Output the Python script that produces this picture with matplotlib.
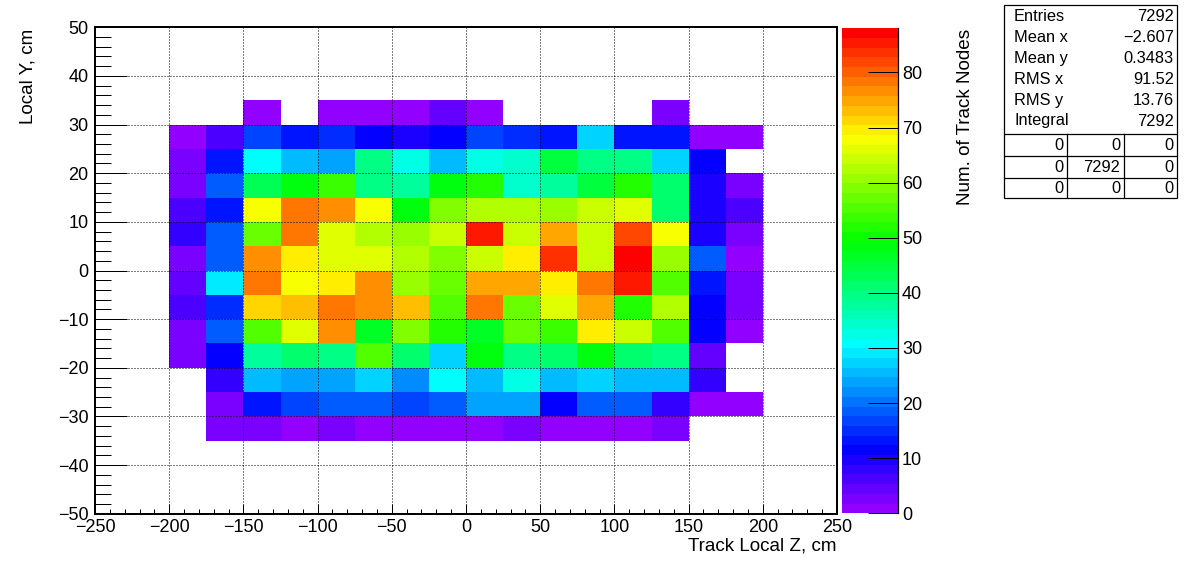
import numpy as np
import matplotlib
matplotlib.use('Agg')
import matplotlib.pyplot as plt
from matplotlib.colors import ListedColormap, BoundaryNorm
from matplotlib.patches import Rectangle
from matplotlib.lines import Line2D
import colorsys

plt.rcParams['font.family'] = ['Liberation Sans', 'DejaVu Sans']

# ---------------- data ----------------
x_edges = np.arange(-200, 201, 25)      # Track Local Z bins
y_edges = np.arange(-35, 36, 5)         # Local Y bins

# counts, rows listed from top (y 30..35) to bottom (y -35..-30)
row_30_35   = [0, 0, 1, 0, 1, 1, 1, 5, 1, 0, 0, 0, 0, 2, 0, 0]
row_25_30   = [1, 7, 17, 13, 15, 11, 10, 11, 17, 15, 13, 27, 13, 13, 1, 1]
row_20_25   = [3, 13, 31, 26, 24, 40, 33, 26, 33, 35, 45, 40, 40, 27, 11, 0]
row_15_20   = [3, 19, 43, 48, 54, 40, 38, 48, 52, 35, 38, 45, 52, 41, 10, 3]
row_10_15   = [7, 13, 68, 78, 76, 68, 48, 59, 62, 62, 60, 64, 66, 42, 10, 6]
row_5_10    = [8, 19, 57, 78, 66, 62, 61, 64, 85, 64, 75, 64, 82, 68, 10, 3]
row_0_5     = [3, 19, 76, 70, 66, 66, 62, 59, 64, 70, 83, 64, 87, 60, 18, 1]
row_m5_0    = [5, 29, 78, 68, 70, 76, 61, 58, 75, 75, 70, 78, 85, 56, 13, 3]
row_m10_m5  = [6, 15, 71, 73, 78, 76, 73, 56, 78, 57, 66, 75, 52, 63, 11, 3]
row_m15_m10 = [3, 19, 56, 66, 76, 46, 59, 52, 46, 57, 53, 70, 64, 56, 11, 1]
row_m20_m15 = [3, 11, 38, 42, 40, 56, 41, 27, 48, 40, 41, 48, 41, 40, 5, 0]
row_m25_m20 = [0, 8, 26, 24, 24, 28, 22, 31, 26, 33, 26, 28, 26, 26, 8, 0]
row_m30_m25 = [0, 3, 14, 17, 19, 19, 17, 19, 23, 23, 11, 19, 19, 8, 1, 1]
row_m35_m30 = [0, 3, 3, 1, 3, 1, 1, 1, 1, 3, 1, 1, 1, 3, 0, 0]

rows_top_to_bottom = [row_30_35, row_25_30, row_20_25, row_15_20, row_10_15,
                      row_5_10, row_0_5, row_m5_0, row_m10_m5, row_m15_m10,
                      row_m20_m15, row_m25_m20, row_m30_m25, row_m35_m30]

z_max = 88
cbar_ticks = list(range(0, 81, 10))

stats_labels = ["Entries", "Mean x", "Mean y", "RMS x", "RMS y", "Integral"]
stats_values = ["7292", "\u22122.607", "0.3483", "91.52", "13.76", "7292"]
table_values = [["0", "0", "0"], ["0", "7292", "0"], ["0", "0", "0"]]

# ---------------- figure ----------------
W, H = 1196, 572
fig = plt.figure(figsize=(W / 100, H / 100), dpi=100)

z = np.array(rows_top_to_bottom[::-1], dtype=float)
zm = np.ma.masked_where(z <= 0, z)

ncol = 50
colors = [colorsys.hls_to_rgb((280 - (i + 1) * 280 / ncol) / 360.0, 0.5, 1.0)
          for i in range(ncol)]
cmap = ListedColormap(colors)
norm = BoundaryNorm(np.linspace(0, z_max, ncol + 1), ncol, clip=True)

TICK_FS = 13
TITLE_FS = 13.6

ax = fig.add_axes([95 / W, 1 - 513.7 / H, 742 / W, 486.4 / H])
mesh = ax.pcolormesh(x_edges, y_edges, zm, cmap=cmap, norm=norm)
ax.set_xlim(-250, 250)
ax.set_ylim(-50, 50)
ax.set_xticks(np.arange(-250, 251, 50))
ax.set_xticks(np.arange(-250, 251, 10), minor=True)
ax.set_yticks(np.arange(-50, 51, 10))
ax.set_yticks(np.arange(-50, 51, 2), minor=True)
ax.set_axisbelow(False)
ax.grid(True, which='major', color='black', linestyle=(0, (1, 2)), linewidth=0.72)
ax.tick_params(axis='x', which='major', direction='in', length=7.2, width=0.72,
               labelsize=TICK_FS, pad=4.0, top=False)
ax.tick_params(axis='x', which='minor', direction='in', length=3.6, width=0.72, top=False)
ax.tick_params(axis='y', which='major', direction='in', length=23, width=0.72,
               labelsize=TICK_FS, pad=4.8, right=False)
ax.tick_params(axis='y', which='minor', direction='in', length=11.5, width=0.72, right=False)
for s in ax.spines.values():
    s.set_linewidth(1.44)

# colour bar
cax = fig.add_axes([842.3 / W, 1 - 513.3 / H, 55.4 / W, 485.0 / H])
cb = fig.colorbar(mesh, cax=cax, ticks=cbar_ticks)
cb.outline.set_visible(False)
cb.minorticks_off()
cax.tick_params(axis='y', which='major', direction='in', length=21.6, width=0.72,
                labelsize=TICK_FS, pad=3.0, right=True, left=False)
cax.add_line(Line2D([1, 1], [0, 1], transform=cax.transAxes, color='black',
                    linewidth=0.9, clip_on=False))

# axis titles
fig.text(28 / W, 1 - 29 / H, "Local Y, cm", rotation=90, ha='center', va='top',
         fontsize=TITLE_FS)
fig.text(837 / W, 1 - 546 / H, "Track Local Z, cm", ha='right', va='center',
         fontsize=TITLE_FS)
fig.text(965 / W, 1 - 29 / H, "Num. of Track Nodes", rotation=90, ha='center', va='top',
         fontsize=TITLE_FS)

# stats box
sx0, sx1, sy0, sy1 = 1004, 1177, 5, 198.3
sax = fig.add_axes([sx0 / W, 1 - sy1 / H, (sx1 - sx0) / W, (sy1 - sy0) / H])
sax.set_xlim(sx0, sx1)
sax.set_ylim(sy1, sy0)
sax.set_axis_off()
sax.add_patch(Rectangle((sx0, sy0), sx1 - sx0, sy1 - sy0, fill=True, facecolor='white',
                        edgecolor='black', linewidth=0.9, clip_on=False))
row_y = [16.7, 37.5, 58.5, 79.5, 100.3, 121]
for lab, val, yy in zip(stats_labels, stats_values, row_y):
    sax.text(1014, yy, lab, ha='left', va='center', fontsize=11.8)
    sax.text(1174, yy, val, ha='right', va='center', fontsize=11.8)
h_lines = [134, 156, 177.7]
for hy in h_lines:
    sax.plot([sx0, sx1], [hy, hy], color='black', linewidth=0.9)
col_lines = [1066.7, 1124]
for cx in col_lines:
    sax.plot([cx, cx], [134, sy1], color='black', linewidth=0.9)
col_right = [1063.3, 1120, 1173.5]
table_y = [145.5, 167, 188.5]
for r, ty in enumerate(table_y):
    for c, cx in enumerate(col_right):
        sax.text(cx, ty, table_values[r][c], ha='right', va='center', fontsize=11.8)

fig.savefig("out.png", dpi=100)
